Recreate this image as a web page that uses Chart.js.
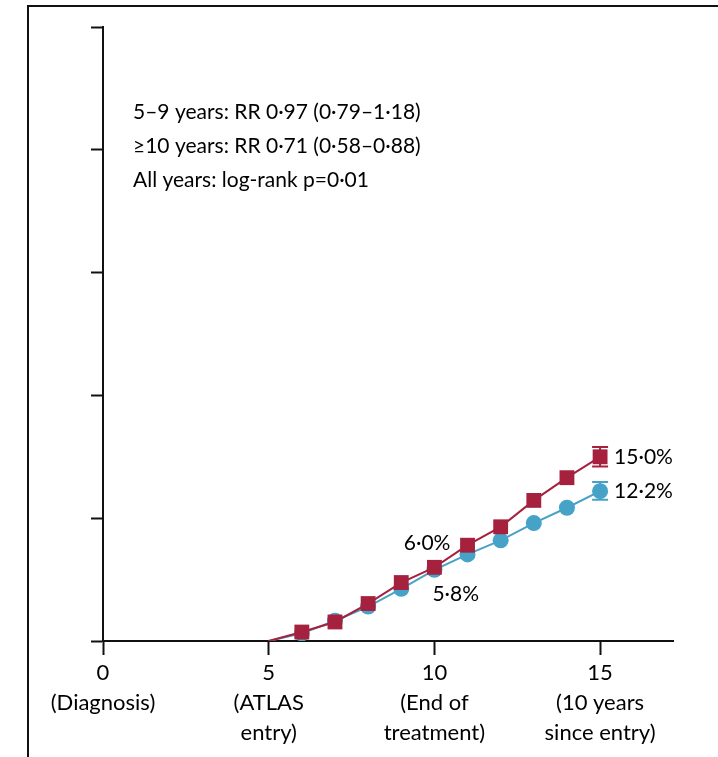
<!DOCTYPE html>
<html>
<head>
<meta charset="utf-8">
<title>Cumulative risk</title>
<script src="https://cdn.jsdelivr.net/npm/chart.js@4.4.1/dist/chart.umd.min.js"></script>
<style>
  html, body { margin: 0; padding: 0; background: #fff; }
  #wrap { position: relative; width: 718px; height: 757px; overflow: hidden; }
  #frame {
    position: absolute; left: 27px; top: 5px; right: -4px; bottom: -4px;
    border-left: 2px solid #111; border-top: 2px solid #111;
  }
  #chart { position: absolute; left: 0; top: 0; }
</style>
</head>
<body>
<div id="wrap">
  <div id="frame"></div>
  <canvas id="chart" width="718" height="757"></canvas>
</div>
<script>
// years since diagnosis
const years = [5, 6, 7, 8, 9, 10, 11, 12, 13, 14, 15];
// cumulative risk (%), red squares and blue circles
const redValues = [0, 0.73, 1.55, 3.05, 4.76, 6.0, 7.8, 9.3, 11.45, 13.3, 15.0];
const blueValues = [0, 0.62, 1.65, 2.8, 4.25, 5.8, 7.05, 8.2, 9.6, 10.85, 12.2];
// confidence range at year 15
const redCI = [14.2, 15.8];
const blueCI = [11.5, 12.95];

const xTicks = [0, 5, 10, 15];
const xTickLabels = [
  ["0", "(Diagnosis)"],
  ["5", "(ATLAS", "entry)"],
  ["10", "(End of", "treatment)"],
  ["15", "(10 years", "since entry)"],
];
const statLines = [
  "5\u20139 years: RR 0\u00b797 (0\u00b779\u20131\u00b718)",
  "\u226510 years: RR 0\u00b771 (0\u00b758\u20130\u00b788)",
  "All years: log-rank p=0\u00b701",
];

const RED = "#a5213e";
const BLUE = "#46a2c6";
const FONT = "Lato, 'Liberation Sans', sans-serif";

const fmt = (v) => v.toFixed(1).replace(".", "\u00b7") + "%";

// error bars, value labels and the stats text
const extras = {
  id: "extras",
  afterDatasetsDraw(chart) {
    const ctx = chart.ctx;
    const x = chart.scales.x;
    const y = chart.scales.y;
    const last = years.length - 1;
    const px = x.getPixelForValue(years[last]);

    ctx.save();
    ctx.lineWidth = 2;
    [[redCI, RED], [blueCI, BLUE]].forEach(([ci, col]) => {
      const lo = y.getPixelForValue(ci[0]);
      const hi = y.getPixelForValue(ci[1]);
      ctx.strokeStyle = col;
      ctx.beginPath();
      ctx.moveTo(px, lo); ctx.lineTo(px, hi);
      ctx.moveTo(px - 8, lo); ctx.lineTo(px + 8, lo);
      ctx.moveTo(px - 8, hi); ctx.lineTo(px + 8, hi);
      ctx.stroke();
    });

    ctx.fillStyle = "#000";
    ctx.font = "21px " + FONT;
    ctx.textBaseline = "middle";

    // end values
    ctx.textAlign = "left";
    ctx.fillText(fmt(redValues[last]), px + 14, y.getPixelForValue(redValues[last]));
    ctx.fillText(fmt(blueValues[last]), px + 14, y.getPixelForValue(blueValues[last]));

    // values at end of treatment
    const i10 = years.indexOf(10);
    const p10 = x.getPixelForValue(10);
    ctx.textAlign = "right";
    ctx.fillText(fmt(redValues[i10]), p10 + 16, y.getPixelForValue(redValues[i10]) - 24);
    ctx.textAlign = "left";
    ctx.fillText(fmt(blueValues[i10]), p10 - 2, y.getPixelForValue(blueValues[i10]) + 24);

    // stats block
    const left = chart.chartArea.left + 30;
    statLines.forEach((s, k) => ctx.fillText(s, left, 112 + k * 34));
    ctx.restore();
  },
};

new Chart(document.getElementById("chart"), {
  type: "line",
  data: {
    labels: years,
    datasets: [
      {
        label: "red",
        data: years.map((yr, i) => ({ x: yr, y: redValues[i] })),
        borderColor: RED,
        backgroundColor: RED,
        borderWidth: 2,
        pointStyle: "rect",
        pointRadius: years.map((yr) => (yr === 5 ? 0 : 10.5)),
        pointBorderWidth: 0,
      },
      {
        label: "blue",
        data: years.map((yr, i) => ({ x: yr, y: blueValues[i] })),
        borderColor: BLUE,
        backgroundColor: BLUE,
        borderWidth: 2,
        pointStyle: "circle",
        pointRadius: years.map((yr) => (yr === 5 ? 0 : 8)),
        pointBorderWidth: 0,
      },
    ],
  },
  options: {
    responsive: false,
    animation: false,
    events: [],
    layout: { padding: { left: 91, right: 45, top: 27, bottom: 0 } },
    plugins: { legend: { display: false }, tooltip: { enabled: false } },
    scales: {
      x: {
        type: "linear",
        min: 0,
        max: 17.2,
        afterBuildTicks: (s) => { s.ticks = xTicks.map((v) => ({ value: v })); },
        // keep the axis line at a fixed height above the labels
        afterFit: (s) => { s.height = 116; },
        border: { display: true, color: "#111", width: 2 },
        grid: { drawOnChartArea: false, drawTicks: true, tickLength: 14, tickWidth: 2, tickColor: "#111" },
        ticks: {
          maxRotation: 0,
          autoSkip: false,
          padding: 3,
          color: "#000",
          font: { family: FONT, size: 22, lineHeight: 1.36 },
          callback: (v) => xTickLabels[xTicks.indexOf(v)],
        },
      },
      y: {
        min: 0,
        max: 50,
        border: { display: true, color: "#111", width: 2 },
        grid: { drawOnChartArea: false, drawTicks: true, tickLength: 12, tickWidth: 2, tickColor: "#111" },
        ticks: { stepSize: 10, display: false },
      },
    },
  },
  plugins: [extras],
});
</script>
</body>
</html>
